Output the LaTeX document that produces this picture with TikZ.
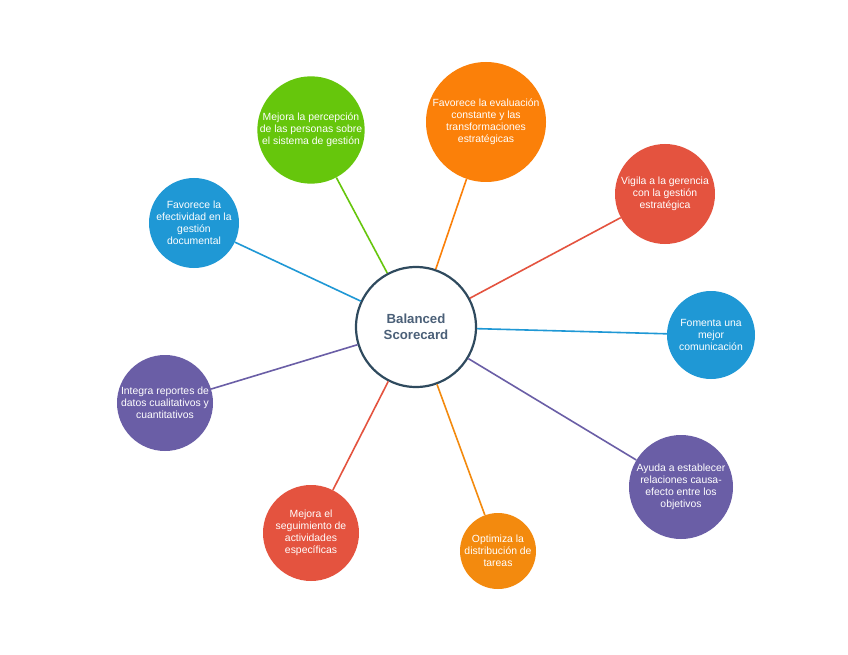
\documentclass[tikz,border=0pt]{standalone}
\usepackage{fontspec}
\setmainfont{Liberation Sans}
\definecolor{cgreen}{HTML}{66C60C}
\definecolor{corange}{HTML}{FB8009}
\definecolor{cred}{HTML}{E4533F}
\definecolor{cblue}{HTML}{1F98D5}
\definecolor{cpurple}{HTML}{6A5EA6}
\definecolor{corange2}{HTML}{F38A0E}
\definecolor{cborder}{HTML}{2F4A5E}
\definecolor{ctext}{HTML}{4B6078}
\begin{document}
\begin{tikzpicture}[x=1pt,y=-1pt,
  sat/.style={circle,fill=#1,draw=none,inner sep=0pt,text=white,align=center,
    font=\fontsize{10.4}{11.9}\selectfont},
  link/.style={draw=#1,line width=1.6pt}]
\useasboundingbox[fill=white] (0,0) rectangle (848,655);
\node[circle,draw=cborder,line width=2.2pt,fill=white,minimum size=120pt,inner sep=0pt,
  text=ctext,align=center,font=\fontsize{13.2}{15.5}\selectfont\bfseries] (c) at (416,327) {Balanced\\Scorecard};
\node[sat=cgreen,minimum size=106pt] (g) at (311,130) {Mejora la percepción\\de las personas sobre\\el sistema de gestión};
\node[sat=corange,minimum size=120pt] (o) at (486,122) {Favorece la evaluación\\constante y las\\transformaciones\\estratégicas};
\node[sat=cred,minimum size=100pt] (r) at (665,194) {Vigila a la gerencia\\con la gestión\\estratégica};
\node[sat=cblue,minimum size=88pt] (b) at (711,335) {Fomenta una\\mejor\\comunicación};
\node[sat=cpurple,minimum size=104pt] (p) at (681,487) {Ayuda a establecer\\relaciones causa-\\efecto entre los\\objetivos};
\node[sat=corange2,minimum size=76pt] (o2) at (498,551) {Optimiza la\\distribución de\\tareas};
\node[sat=cred,minimum size=96pt] (r2) at (311,533) {Mejora el\\seguimiento de\\actividades\\específicas};
\node[sat=cpurple,minimum size=96pt] (p2) at (165,403) {Integra reportes de\\datos cualitativos y\\cuantitativos};
\node[sat=cblue,minimum size=90pt] (b2) at (194,223) {Favorece la\\efectividad en la\\gestión\\documental};
\draw[link=cgreen] (g) -- (c);
\draw[link=corange] (o) -- (c);
\draw[link=cred] (r) -- (c);
\draw[link=cblue] (b) -- (c);
\draw[link=cpurple] (p) -- (c);
\draw[link=corange2] (o2) -- (c);
\draw[link=cred] (r2) -- (c);
\draw[link=cpurple] (p2) -- (c);
\draw[link=cblue] (b2) -- (c);
\end{tikzpicture}
\end{document}
